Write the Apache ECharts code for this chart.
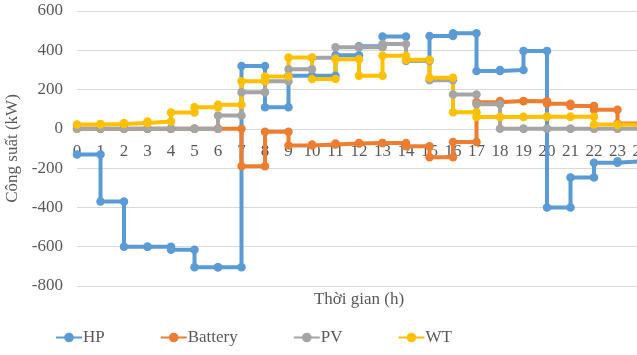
<!DOCTYPE html>
<html>
<head>
<meta charset="utf-8">
<script src="https://cdn.jsdelivr.net/npm/echarts@6/dist/echarts.min.js"></script>
<style>
html,body{margin:0;padding:0;background:#fff;}
#chart{width:637px;height:355px;}
</style>
</head>
<body>
<div id="chart"></div>
<script>
// Hourly values (kW) for hours 0..23, each held until the next hour
const seriesNames = ['HP', 'Battery', 'PV', 'WT'];
const hpValues = [-130, -370, -600, -600, -615, -705, -705, 320, 110, 270, 270, 375, 420, 470, 350, 473, 487, 295, 300, 397, -400, -247, -173, -165];
const batteryValues = [0, 0, 0, 0, 0, 0, 0, -190, -15, -85, -80, -75, -72, -72, -88, -145, -67, 135, 142, 140, 128, 117, 97, 27];
const pvValues = [0, 0, 0, 0, 0, 0, 68, 186, 243, 303, 362, 415, 415, 432, 345, 248, 175, 125, 0, 0, 0, 0, 0, 0];
const wtValues = [22, 25, 30, 38, 83, 110, 123, 242, 267, 363, 254, 355, 271, 372, 352, 260, 85, 60, 60, 62, 62, 62, 22, 20];
const yTicks = { min: -800, max: 600, step: 200 };
const xTicks = { min: 0, max: 24, step: 1 };

const colors = ['#5B9BD5', '#ED7D31', '#A5A5A5', '#FFC000'];
const font = 'Liberation Serif, Times New Roman, serif';
const textColor = '#595959';

function steps(vals) {
  const out = [];
  vals.forEach((v, h) => { out.push([h, v]); out.push([h + 1, v]); });
  return out;
}

const allValues = [hpValues, batteryValues, pvValues, wtValues];

// grid geometry
const gridTop = 11, gridBottom = 69, chartH = 355;
const plotH = chartH - gridTop - gridBottom;
const zeroOffset = -plotH * (0 - yTicks.min) / (yTicks.max - yTicks.min);

const chart = echarts.init(document.getElementById('chart'), null, { renderer: 'canvas' });
chart.setOption({
  animation: false,
  color: colors,
  grid: { left: 77, right: -4, top: gridTop, bottom: gridBottom, containLabel: false, outerBoundsMode: 'none' },
  legend: {
    data: seriesNames,
    left: 50,
    top: 324,
    itemGap: 55,
    itemWidth: 26,
    itemHeight: 12,
    textStyle: { fontFamily: font, fontSize: 17, color: textColor, padding: [0, 0, 0, -4] }
  },
  xAxis: {
    type: 'value',
    position: 'bottom',
    offset: zeroOffset,
    min: xTicks.min, max: xTicks.max, interval: xTicks.step,
    axisLine: { onZero: false, lineStyle: { color: '#d9d9d9', width: 1 } },
    axisTick: { show: false },
    splitLine: { show: false },
    axisLabel: { fontFamily: font, fontSize: 17, color: textColor, margin: 14, hideOverlap: false },
    name: 'Thời gian (h)',
    nameLocation: 'middle',
    nameGap: 162,
    nameTextStyle: { fontFamily: font, fontSize: 17, color: textColor }
  },
  yAxis: {
    type: 'value',
    min: yTicks.min, max: yTicks.max, interval: yTicks.step,
    axisLine: { show: false, onZero: false },
    axisTick: { show: false },
    splitLine: { lineStyle: { color: '#d9d9d9', width: 1 } },
    axisLabel: { fontFamily: font, fontSize: 17, color: textColor, margin: 14 },
    name: 'Công suất (kW)',
    nameLocation: 'middle',
    nameGap: 45,
    nameTextStyle: { fontFamily: font, fontSize: 17, color: textColor }
  },
  series: seriesNames.map((name, i) => ({
    name: name,
    type: 'line',
    data: steps(allValues[i]),
    symbol: 'circle',
    symbolSize: 8.5,
    showAllSymbol: true,
    lineStyle: { width: 4 },
    itemStyle: { color: colors[i] }
  }))
});
</script>
</body>
</html>
